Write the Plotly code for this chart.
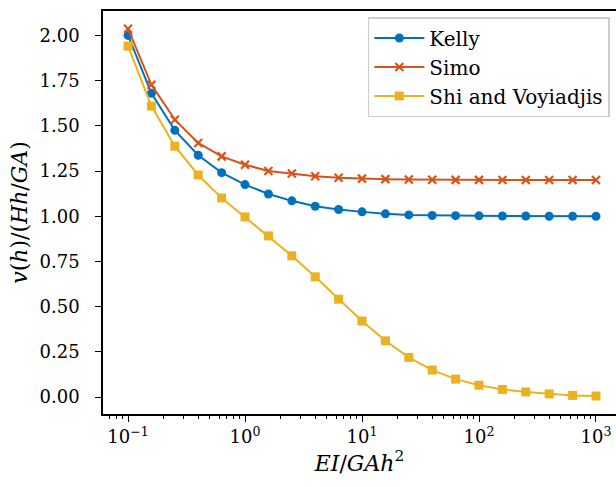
import plotly.graph_objects as go

# Data (EI/GAh^2 sampled at 5 points per decade)
x_vals = [0.1, 0.1585, 0.2512, 0.3981, 0.631, 1.0, 1.585, 2.512, 3.981, 6.31, 10.0,
          15.85, 25.12, 39.81, 63.1, 100.0, 158.5, 251.2, 398.1, 631.0, 1000.0]
kelly = [2.00, 1.68, 1.475, 1.337, 1.241, 1.175, 1.123, 1.085, 1.055, 1.037, 1.024,
         1.013, 1.007, 1.004, 1.003, 1.002, 1.001, 1.001, 1.0, 1.0, 1.0]
simo = [2.037, 1.727, 1.534, 1.405, 1.331, 1.285, 1.25, 1.236, 1.221, 1.213, 1.208,
        1.205, 1.203, 1.202, 1.201, 1.201, 1.2, 1.2, 1.2, 1.2, 1.2]
shi = [1.941, 1.609, 1.387, 1.228, 1.101, 0.996, 0.891, 0.781, 0.665, 0.541, 0.420,
       0.311, 0.219, 0.149, 0.099, 0.065, 0.042, 0.028, 0.017, 0.009, 0.0055]

series_names = ["Kelly", "Simo", "Shi and Voyiadjis"]
x_tick_vals = [0.1, 1, 10, 100, 1000]
x_tick_text = ["10<sup>−1</sup>", "10<sup>0</sup>", "10<sup>1</sup>", "10<sup>2</sup>", "10<sup>3</sup>"]
y_tick_vals = [0.0, 0.25, 0.5, 0.75, 1.0, 1.25, 1.5, 1.75, 2.0]
y_tick_text = ["0.00", "0.25", "0.50", "0.75", "1.00", "1.25", "1.50", "1.75", "2.00"]

FONT = "DejaVu Serif"
blue, orange, yellow = "#0072BD", "#D95319", "#EDB120"

fig = go.Figure()
fig.add_trace(go.Scatter(x=x_vals, y=kelly, name=series_names[0], mode="lines+markers",
                         line=dict(color=blue, width=2),
                         marker=dict(symbol="circle", size=9, color=blue)))
fig.add_trace(go.Scatter(x=x_vals, y=simo, name=series_names[1], mode="lines+markers",
                         line=dict(color=orange, width=2),
                         marker=dict(symbol="x-thin", size=8, color=orange,
                                     line=dict(color=orange, width=2.2))))
fig.add_trace(go.Scatter(x=x_vals, y=shi, name=series_names[2], mode="lines+markers",
                         line=dict(color=yellow, width=2),
                         marker=dict(symbol="square", size=9, color=yellow)))

fig.update_layout(
    width=616, height=487,
    margin=dict(l=103, r=0, t=11, b=73),
    paper_bgcolor="white", plot_bgcolor="white",
    font=dict(family=FONT, size=18, color="black"),
    showlegend=True,
    legend=dict(x=0.988, y=0.985, xanchor="right", yanchor="top",
                bgcolor="rgba(255,255,255,0.8)", bordercolor="#cccccc", borderwidth=1.5,
                font=dict(family=FONT, size=20, color="black"),
                itemwidth=50, tracegroupgap=0),
)
fig.update_xaxes(
    type="log", range=[-1.214, 3.171],
    tickmode="array", tickvals=x_tick_vals, ticktext=x_tick_text,
    ticks="outside", ticklen=6, tickwidth=1.3, tickcolor="black",
    showline=True, linecolor="black", linewidth=1.5, mirror=True,
    showgrid=False, zeroline=False,
    minor=dict(ticks="outside", ticklen=3.5, tickwidth=1, tickcolor="black",
               dtick="D1", showgrid=False),
    title=dict(text="<i>EI</i>/<i>GAh</i><sup>2</sup>", standoff=6),
)
fig.update_yaxes(
    range=[-0.094, 2.135],
    tickmode="array", tickvals=y_tick_vals, ticktext=y_tick_text,
    ticks="outside", ticklen=6, tickwidth=1.3, tickcolor="black",
    ticklabelstandoff=12,
    showline=True, linecolor="black", linewidth=1.5, mirror=False,
    showgrid=False, zeroline=False,
    title=dict(text="<i>v</i>(<i>h</i>)/(<i>Hh</i>/<i>GA</i>)", standoff=6),
)

fig.write_html("out.html")
